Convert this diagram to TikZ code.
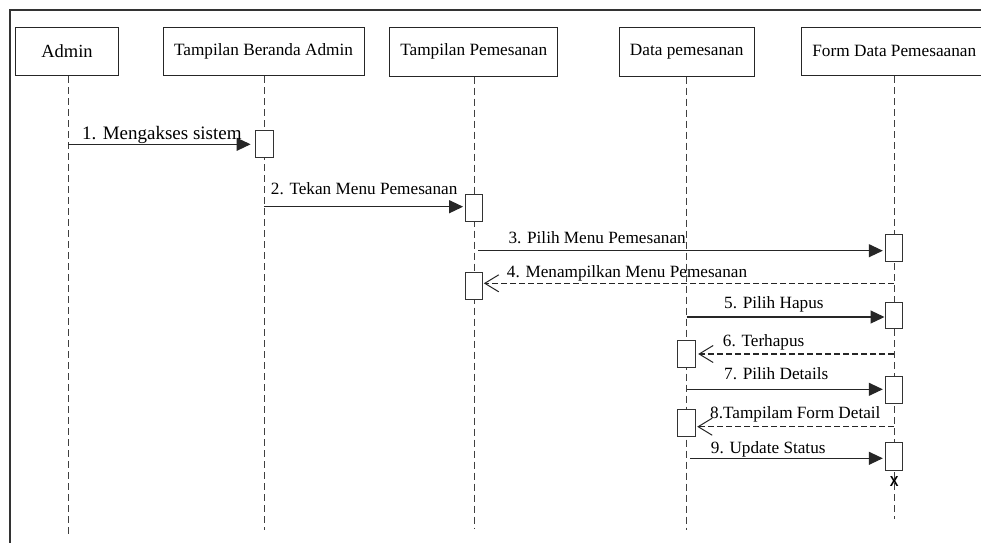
\documentclass[tikz,border=0pt]{standalone}
\usepackage{fontspec}
\setmainfont{Liberation Serif}
\setsansfont{Liberation Sans}
\usetikzlibrary{arrows.meta}
\begin{document}
\begin{tikzpicture}[x=1pt,y=-1pt,
  head/.style={draw=black!85, line width=0.9pt, fill=white, minimum height=48.5pt,
    inner sep=0pt, font=\fontsize{17.25}{20}\selectfont},
  act/.style={draw=black!80, line width=0.9pt, fill=white, minimum width=17.5pt,
    minimum height=27.3pt, inner sep=0pt},
  life/.style={draw=black!75, line width=0.9pt, dash pattern=on 7pt off 4pt},
  call/.style={draw=black!85, line width=1.1pt, -{Triangle[length=14pt,width=13pt]}},
  reply/.style={draw=black!85, line width=1.1pt, dash pattern=on 6pt off 3pt,
    -{Straight Barb[length=14pt,width=17pt,line width=1pt]}},
  lbl/.style={font=\fontsize{17.2}{20}\selectfont, inner sep=0pt, anchor=base west},
]
\useasboundingbox (0,0) rectangle (981,542);
\clip (0,0) rectangle (981,542);
\fill[white] (0,0) rectangle (981,542);

% diagram frame
\draw[line width=2pt, draw=black!80] (10,560) -- (10,10) -- (1000,10);

% lifeline heads
\node[head, minimum width=102.6pt, font=\fontsize{18.5}{21}\selectfont] (admin) at (67,51.3) {Admin};
\node[head, minimum width=201pt] (beranda) at (263.5,51.5) {Tampilan Beranda Admin};
\node[head, minimum width=168pt] (tpesan) at (473.7,51.8) {Tampilan Pemesanan};
\node[head, minimum width=134.7pt] (dpesan) at (686.7,51.8) {Data pemesanan};
\node[head, minimum width=186pt] (form) at (894.3,51.3) {Form Data Pemesaanan};

% lifeline ends
\coordinate (adminEnd) at (68,536);
\coordinate (berandaEnd) at (264.3,530);
\coordinate (tpesanEnd) at (474,529);
\coordinate (dpesanEnd) at (686.3,530);
\coordinate (formEnd) at (894,519);

\draw[life] (admin.south -| adminEnd) -- (adminEnd);
\draw[life] (beranda.south -| berandaEnd) -- (berandaEnd);
\draw[life] (tpesan.south -| tpesanEnd) -- (tpesanEnd);
\draw[life] (dpesan.south -| dpesanEnd) -- (dpesanEnd);
\draw[life] (form.south -| formEnd) -- (formEnd);

% activation bars
\node[act] (a1) at (264.5,143.7) {};
\node[act] (a2) at (474,207.8) {};
\node[act] (a3) at (894,248) {};
\node[act] (a4) at (474,285.8) {};
\node[act, minimum height=26pt] (a5) at (894,315.3) {};
\node[act] (a6) at (686.3,353.7) {};
\node[act, minimum height=26.6pt] (a7) at (894,390) {};
\node[act] (a8) at (686.3,423) {};
\node[act] (a9) at (894,456.3) {};

% message start points
\coordinate (m1s) at (68,144.3);
\coordinate (m2s) at (264.3,206.7);
\coordinate (m3s) at (478.3,250.7);
\coordinate (m4s) at (894,283.3);
\coordinate (m5s) at (686.7,317);
\coordinate (m6s) at (894,354);
\coordinate (m7s) at (687.3,389.3);
\coordinate (m8s) at (894,426.7);
\coordinate (m9s) at (690,458.3);

% messages
\draw[call, shorten >=4.7pt] (m1s) -- (m1s -| a1.west);
\draw[call, shorten >=1.7pt] (m2s) -- (m2s -| a2.west);
\draw[call, shorten >=2pt] (m3s) -- (m3s -| a3.west);
\draw[reply, shorten >=0.6pt] (m4s) -- (m4s -| a4.east);
\draw[call, shorten >=0.3pt] (m5s) -- (m5s -| a5.west);
\draw[reply, shorten >=2.7pt] (m6s) -- (m6s -| a6.east);
\draw[call, shorten >=2pt] (m7s) -- (m7s -| a7.west);
\draw[reply, shorten >=1.7pt] (m8s) -- (m8s -| a8.east);
\draw[call, shorten >=2pt] (m9s) -- (m9s -| a9.west);

% message labels
\node[lbl, font=\fontsize{19}{22}\selectfont] (l1) at (82,139.3) {1. Mengakses sistem};
\node[lbl] (l2) at (270.7,194.3) {2. Tekan Menu Pemesanan};
\node[lbl] (l3) at (508.3,243.3) {3. Pilih Menu Pemesanan};
\node[lbl] (l4) at (506.7,277.3) {4. Menampilkan Menu Pemesanan};
\node[lbl] (l5) at (724,308.3) {5. Pilih Hapus};
\node[lbl] (l6) at (722.7,346.7) {6. Terhapus};
\node[lbl] (l7) at (724,379.3) {7. Pilih Details};
\node[lbl] (l8) at (710,418.3) {8.Tampilam Form Detail};
\node[lbl] (l9) at (710.7,453.3) {9. Update Status};

% destruction mark
\node[font=\sffamily\bfseries\fontsize{14.5}{14.5}\selectfont, inner sep=0pt, xscale=0.9]
  (destroy) at (894.3,481.7) {X};
\end{tikzpicture}
\end{document}
